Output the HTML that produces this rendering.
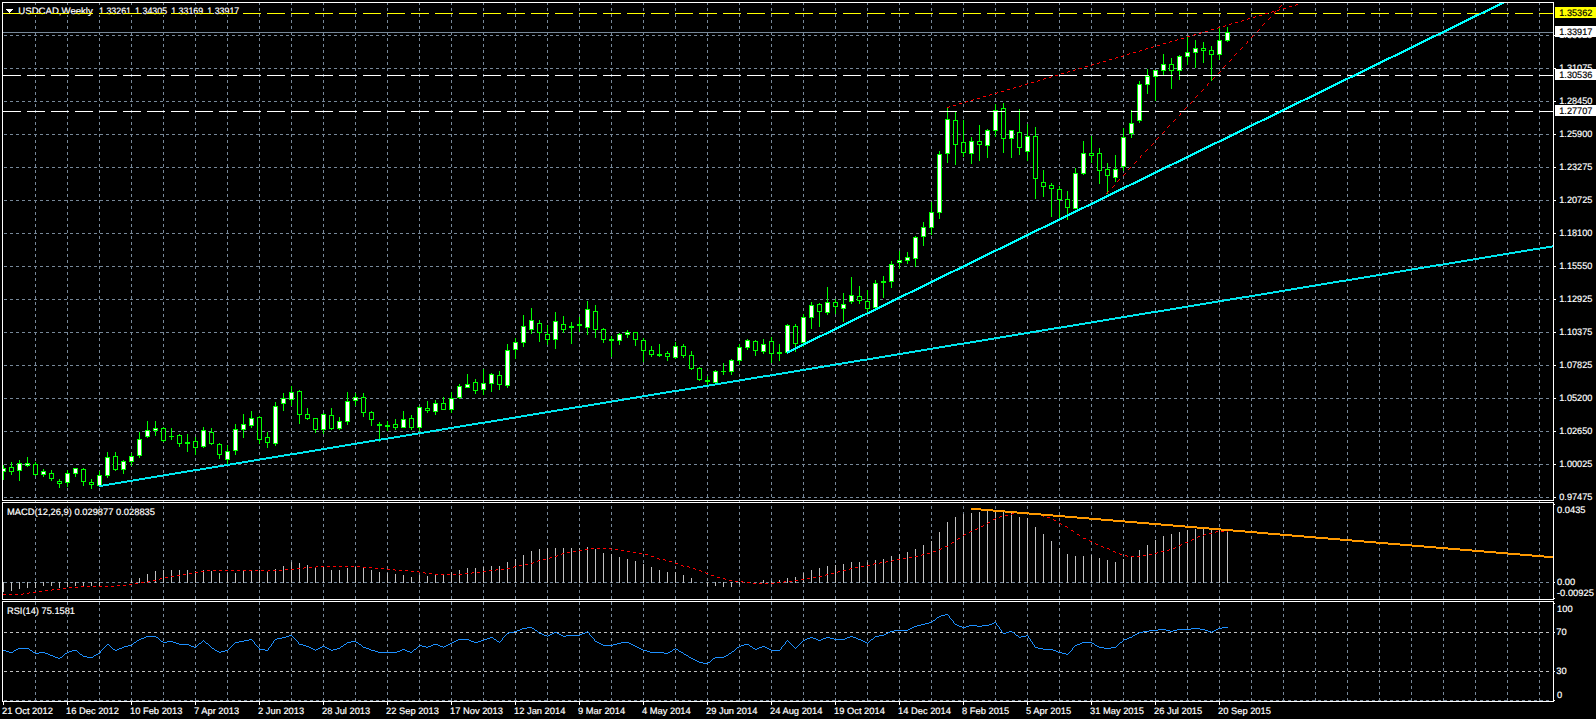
<!DOCTYPE html>
<html><head><meta charset="utf-8"><title>USDCAD Weekly</title>
<style>
html,body{margin:0;padding:0;background:#000;}
body{width:1596px;height:719px;overflow:hidden;position:relative;font-family:"Liberation Sans",sans-serif;}
</style></head><body>
<svg width="1596" height="719" viewBox="0 0 1596 719" shape-rendering="crispEdges" style="position:absolute;left:0;top:0;display:block">
<rect width="1596" height="719" fill="#000"/>
<path d="M35.5 2V701M67.5 2V701M99.5 2V701M131.5 2V701M163.5 2V701M195.5 2V701M227.5 2V701M259.5 2V701M291.5 2V701M323.5 2V701M355.5 2V701M387.5 2V701M419.5 2V701M451.5 2V701M483.5 2V701M515.5 2V701M547.5 2V701M579.5 2V701M611.5 2V701M643.5 2V701M675.5 2V701M707.5 2V701M739.5 2V701M771.5 2V701M803.5 2V701M835.5 2V701M867.5 2V701M899.5 2V701M931.5 2V701M963.5 2V701M995.5 2V701M1027.5 2V701M1059.5 2V701M1091.5 2V701M1123.5 2V701M1155.5 2V701M1187.5 2V701M1219.5 2V701M1251.5 2V701M1283.5 2V701M1315.5 2V701M1347.5 2V701M1379.5 2V701M1411.5 2V701M1443.5 2V701M1475.5 2V701M1507.5 2V701M1539.5 2V701" stroke="#778899" stroke-dasharray="3 3" fill="none"/>
<path d="M4 35.5H1552M4 68.5H1552M4 101.5H1552M4 134.5H1552M4 167.5H1552M4 200.5H1552M4 233.5H1552M4 266.5H1552M4 299.5H1552M4 332.5H1552M4 365.5H1552M4 398.5H1552M4 431.5H1552M4 464.5H1552M4 497.5H1552M4 582.5H1552" stroke="#778899" stroke-dasharray="3 3" fill="none"/>
<path d="M4 632.5H1552M4 671.5H1552" stroke="#c0c0c0" stroke-dasharray="3 3" fill="none"/>
<path d="M4 700.5H1552" stroke="#778899" stroke-dasharray="3 3" fill="none"/>
<path d="M3 32.5H1553" stroke="#778899" fill="none"/>
<path d="M3.5 582v10M11.5 582v9M19.5 582v7M27.5 582v6M35.5 582v6M43.5 582v4M51.5 582v4M59.5 582v6M67.5 582v5M75.5 582v4M83.5 582v5M91.5 582v4M99.5 582v4M131.5 580v3M139.5 578v5M147.5 574v9M155.5 571v12M163.5 570v13M171.5 570v13M179.5 570v13M187.5 570v13M195.5 571v12M203.5 570v13M211.5 571v12M219.5 573v10M227.5 573v10M235.5 573v10M243.5 570v13M251.5 570v13M259.5 570v13M267.5 571v12M275.5 569v14M283.5 566v17M291.5 562v21M299.5 563v20M307.5 565v18M315.5 567v16M323.5 567v16M331.5 570v13M339.5 570v13M347.5 568v15M355.5 567v16M363.5 567v16M371.5 570v13M379.5 572v11M387.5 573v10M395.5 574v9M403.5 575v8M411.5 577v6M419.5 575v8M427.5 576v7M435.5 574v9M443.5 574v9M451.5 572v11M459.5 570v13M467.5 568v15M475.5 568v15M483.5 567v16M491.5 566v17M499.5 566v17M507.5 562v21M515.5 559v24M523.5 555v28M531.5 551v32M539.5 549v34M547.5 548v35M555.5 548v35M563.5 548v35M571.5 548v35M579.5 548v35M587.5 547v36M595.5 549v34M603.5 553v30M611.5 554v29M619.5 557v26M627.5 559v24M635.5 561v22M643.5 564v19M651.5 567v16M659.5 570v13M667.5 572v11M675.5 572v11M683.5 575v8M691.5 578v5M707.5 582v4M715.5 582v4M723.5 582v5M731.5 582v5M739.5 582v3M763.5 580v3M771.5 581v2M779.5 580v3M787.5 578v5M795.5 577v6M803.5 573v10M811.5 570v13M819.5 568v15M827.5 566v17M835.5 565v18M843.5 564v19M851.5 562v21M859.5 562v21M867.5 562v21M875.5 560v23M883.5 559v24M891.5 556v27M899.5 554v29M907.5 552v31M915.5 549v34M923.5 545v38M931.5 541v42M939.5 532v51M947.5 522v61M955.5 517v66M963.5 514v69M971.5 513v70M979.5 512v71M987.5 511v72M995.5 510v73M1003.5 510v73M1011.5 513v70M1019.5 517v66M1027.5 518v65M1035.5 527v56M1043.5 534v49M1051.5 541v42M1059.5 548v35M1067.5 554v29M1075.5 556v27M1083.5 556v27M1091.5 555v28M1099.5 558v25M1107.5 560v23M1115.5 562v21M1123.5 559v24M1131.5 556v27M1139.5 550v33M1147.5 545v38M1155.5 540v43M1163.5 536v47M1171.5 534v49M1179.5 532v51M1187.5 530v53M1195.5 529v54M1203.5 529v54M1211.5 530v53M1219.5 529v54M1227.5 531v52" stroke="#c0c0c0" fill="none"/>
<clipPath id="cm"><rect x="3" y="3" width="1550" height="497"/></clipPath>
<g clip-path="url(#cm)">
<path d="M3.5 465v15M1 468.5h5M1 471.5h5M1.5 469v2M5.5 469v2M11.5 462v13M9 467.5h5M9 471.5h5M9.5 468v3M13.5 468v3M19.5 460v21M17 463.5h5M17 470.5h5M17.5 464v6M21.5 464v6M27.5 457v10M25 463.5h5M25 465.5h5M25.5 464v1M29.5 464v1M35.5 462v14M33 464.5h5M33 474.5h5M33.5 465v9M37.5 465v9M43.5 469v8M41 471.5h5M41 474.5h5M41.5 472v2M45.5 472v2M51.5 470v11M49 473.5h5M49 478.5h5M49.5 474v4M53.5 474v4M59.5 479v9M57 481.5h5M57 483.5h5M57.5 482v1M61.5 482v1M67.5 470v17M65 473.5h5M65 482.5h5M65.5 474v8M69.5 474v8M75.5 468v9M73 468.5h5M73 473.5h5M73.5 469v4M77.5 469v4M83.5 468v18M81 469.5h5M81 481.5h5M81.5 470v11M85.5 470v11M91.5 479v10M89 482.5h5M89 484.5h5M89.5 483v1M93.5 483v1M99.5 471v15M97 475.5h5M97 485.5h5M97.5 476v9M101.5 476v9M107.5 452v26M105 457.5h5M105 475.5h5M105.5 458v17M109.5 458v17M115.5 452v19M113 456.5h5M113 469.5h5M113.5 457v12M117.5 457v12M123.5 460v14M121 461.5h5M121 469.5h5M121.5 462v7M125.5 462v7M131.5 453v13M129 456.5h5M129 461.5h5M129.5 457v4M133.5 457v4M139.5 432v26M137 439.5h5M137 455.5h5M137.5 440v15M141.5 440v15M147.5 421v17M145 430.5h5M145 436.5h5M145.5 431v5M149.5 431v5M155.5 421v15M153 428.5h5M153 430.5h5M153.5 429v1M157.5 429v1M163.5 427v15M161 428.5h5M161 440.5h5M161.5 429v11M165.5 429v11M171.5 428v12M169 436.5h5M179.5 434v13M177 435.5h5M177 443.5h5M177.5 436v7M181.5 436v7M187.5 434v18M185 442.5h5M185 443.5h5M195.5 437v18M193 441.5h5M193 447.5h5M193.5 442v5M197.5 442v5M203.5 427v21M201 430.5h5M201 446.5h5M201.5 431v15M205.5 431v15M211.5 428v17M209 432.5h5M209 443.5h5M209.5 433v10M213.5 433v10M219.5 443v16M217 444.5h5M217 454.5h5M217.5 445v9M221.5 445v9M227.5 445v20M225 451.5h5M225 459.5h5M225.5 452v7M229.5 452v7M235.5 424v31M233 429.5h5M233 450.5h5M233.5 430v20M237.5 430v20M243.5 414v24M241 424.5h5M241 429.5h5M241.5 425v4M245.5 425v4M251.5 411v17M249 418.5h5M249 425.5h5M249.5 419v6M253.5 419v6M259.5 416v28M257 417.5h5M257 439.5h5M257.5 418v21M261.5 418v21M267.5 432v16M265 437.5h5M265 442.5h5M265.5 438v4M269.5 438v4M275.5 402v44M273 406.5h5M273 443.5h5M273.5 407v36M277.5 407v36M283.5 393v18M281 398.5h5M281 403.5h5M281.5 399v4M285.5 399v4M291.5 386v20M289 392.5h5M289 399.5h5M289.5 393v6M293.5 393v6M299.5 390v34M297 391.5h5M297 414.5h5M297.5 392v22M301.5 392v22M307.5 408v12M305 414.5h5M305 418.5h5M305.5 415v3M309.5 415v3M315.5 418v15M313 418.5h5M313 429.5h5M313.5 419v10M317.5 419v10M323.5 413v21M321 414.5h5M321 429.5h5M321.5 415v14M325.5 415v14M331.5 408v22M329 415.5h5M329 428.5h5M329.5 416v12M333.5 416v12M339.5 417v13M337 421.5h5M337 428.5h5M337.5 422v6M341.5 422v6M347.5 392v33M345 401.5h5M345 421.5h5M345.5 402v19M349.5 402v19M355.5 393v13M353 397.5h5M353 400.5h5M353.5 398v2M357.5 398v2M363.5 393v24M361 397.5h5M361 412.5h5M361.5 398v14M365.5 398v14M371.5 411v15M369 412.5h5M369 419.5h5M369.5 413v6M373.5 413v6M379.5 422v20M377 424.5h5M377 425.5h5M387.5 421v10M385 425.5h5M385 426.5h5M395.5 419v11M393 424.5h5M393 427.5h5M393.5 425v2M397.5 425v2M403.5 411v17M401 419.5h5M401 427.5h5M401.5 420v7M405.5 420v7M411.5 415v15M409 418.5h5M409 427.5h5M409.5 419v8M413.5 419v8M419.5 406v25M417 407.5h5M417 427.5h5M417.5 408v19M421.5 408v19M427.5 401v12M425 408.5h5M425 410.5h5M425.5 409v1M429.5 409v1M435.5 400v15M433 403.5h5M433 411.5h5M433.5 404v7M437.5 404v7M443.5 397v13M441 403.5h5M441 409.5h5M441.5 404v5M445.5 404v5M451.5 392v21M449 398.5h5M449 409.5h5M449.5 399v10M453.5 399v10M459.5 384v15M457 386.5h5M457 397.5h5M457.5 387v10M461.5 387v10M467.5 374v14M465 384.5h5M465 387.5h5M465.5 385v2M469.5 385v2M475.5 379v15M473 382.5h5M473 390.5h5M473.5 383v7M477.5 383v7M483.5 369v26M481 383.5h5M481 389.5h5M481.5 384v5M485.5 384v5M491.5 373v19M489 374.5h5M489 383.5h5M489.5 375v8M493.5 375v8M499.5 371v19M497 375.5h5M497 384.5h5M497.5 376v8M501.5 376v8M507.5 344v44M505 350.5h5M505 385.5h5M505.5 351v34M509.5 351v34M515.5 338v21M513 342.5h5M513 349.5h5M513.5 343v6M517.5 343v6M523.5 315v32M521 326.5h5M521 342.5h5M521.5 327v15M525.5 327v15M531.5 308v26M529 320.5h5M529 329.5h5M529.5 321v8M533.5 321v8M539.5 320v22M537 323.5h5M537 332.5h5M537.5 324v8M541.5 324v8M547.5 325v20M545 334.5h5M545 339.5h5M545.5 335v4M549.5 335v4M555.5 312v37M553 321.5h5M553 339.5h5M553.5 322v17M557.5 322v17M563.5 316v17M561 324.5h5M561 329.5h5M561.5 325v4M565.5 325v4M571.5 322v22M569 326.5h5M569 327.5h5M579.5 317v15M577 324.5h5M577 325.5h5M587.5 301v34M585 309.5h5M585 327.5h5M585.5 310v17M589.5 310v17M595.5 305v33M593 311.5h5M593 329.5h5M593.5 312v17M597.5 312v17M603.5 328v15M601 329.5h5M601 339.5h5M601.5 330v9M605.5 330v9M611.5 336v21M609 339.5h5M609 340.5h5M619.5 333v12M617 334.5h5M617 340.5h5M617.5 335v5M621.5 335v5M627.5 330v8M625 332.5h5M625 334.5h5M625.5 333v1M629.5 333v1M635.5 332v14M633 332.5h5M633 339.5h5M633.5 333v6M637.5 333v6M643.5 338v24M641 340.5h5M641 350.5h5M641.5 341v9M645.5 341v9M651.5 346v11M649 350.5h5M649 354.5h5M649.5 351v3M653.5 351v3M659.5 344v13M657 354.5h5M657 355.5h5M667.5 351v10M665 353.5h5M665 356.5h5M665.5 354v2M669.5 354v2M675.5 342v17M673 346.5h5M673 357.5h5M673.5 347v10M677.5 347v10M683.5 344v14M681 346.5h5M681 355.5h5M681.5 347v8M685.5 347v8M691.5 351v19M689 355.5h5M689 368.5h5M689.5 356v12M693.5 356v12M699.5 367v14M697 368.5h5M697 379.5h5M697.5 369v10M701.5 369v10M707.5 376v9M705 380.5h5M705 381.5h5M715.5 370v13M713 371.5h5M713 382.5h5M713.5 372v10M717.5 372v10M723.5 363v12M721 371.5h5M731.5 359v16M729 360.5h5M729 371.5h5M729.5 361v10M733.5 361v10M739.5 344v21M737 347.5h5M737 360.5h5M737.5 348v12M741.5 348v12M747.5 339v11M745 340.5h5M745 347.5h5M745.5 341v6M749.5 341v6M755.5 340v16M753 341.5h5M753 350.5h5M753.5 342v8M757.5 342v8M763.5 339v15M761 344.5h5M761 351.5h5M761.5 345v6M765.5 345v6M771.5 337v26M769 341.5h5M769 353.5h5M769.5 342v11M773.5 342v11M779.5 344v17M777 352.5h5M777 353.5h5M787.5 324v29M785 325.5h5M785 352.5h5M785.5 326v26M789.5 326v26M795.5 324v28M793 326.5h5M793 343.5h5M793.5 327v16M797.5 327v16M803.5 314v33M801 317.5h5M801 342.5h5M801.5 318v24M805.5 318v24M811.5 302v27M809 305.5h5M809 317.5h5M809.5 306v11M813.5 306v11M819.5 303v24M817 304.5h5M817 311.5h5M817.5 305v6M821.5 305v6M827.5 287v28M825 302.5h5M825 312.5h5M825.5 303v9M829.5 303v9M835.5 299v15M833 302.5h5M833 306.5h5M833.5 303v3M837.5 303v3M843.5 293v29M841 304.5h5M841 308.5h5M841.5 305v3M845.5 305v3M851.5 277v27M849 295.5h5M849 301.5h5M849.5 296v5M853.5 296v5M859.5 286v18M857 296.5h5M857 300.5h5M857.5 297v3M861.5 297v3M867.5 290v23M865 301.5h5M865 308.5h5M865.5 302v6M869.5 302v6M875.5 280v28M873 283.5h5M873 307.5h5M873.5 284v23M877.5 284v23M883.5 276v22M881 281.5h5M881 282.5h5M891.5 261v27M889 264.5h5M889 281.5h5M889.5 265v16M893.5 265v16M899.5 251v18M897 260.5h5M897 262.5h5M897.5 261v1M901.5 261v1M907.5 252v12M905 257.5h5M905 260.5h5M905.5 258v2M909.5 258v2M915.5 236v31M913 237.5h5M913 258.5h5M913.5 238v20M917.5 238v20M923.5 222v24M921 227.5h5M921 236.5h5M921.5 228v8M925.5 228v8M931.5 202v33M929 212.5h5M929 227.5h5M929.5 213v14M933.5 213v14M939.5 151v68M937 154.5h5M937 212.5h5M937.5 155v57M941.5 155v57M947.5 107v56M945 119.5h5M945 153.5h5M945.5 120v33M949.5 120v33M955.5 111v54M953 120.5h5M953 144.5h5M953.5 121v23M957.5 121v23M963.5 120v37M961 142.5h5M961 152.5h5M961.5 143v9M965.5 143v9M971.5 137v27M969 141.5h5M969 153.5h5M969.5 142v11M973.5 142v11M979.5 125v36M977 141.5h5M977 144.5h5M977.5 142v2M981.5 142v2M987.5 129v29M985 130.5h5M985 145.5h5M985.5 131v14M989.5 131v14M995.5 104v33M993 110.5h5M993 130.5h5M993.5 111v19M997.5 111v19M1003.5 103v50M1001 108.5h5M1001 138.5h5M1001.5 109v29M1005.5 109v29M1011.5 130v28M1009 130.5h5M1009 138.5h5M1009.5 131v7M1013.5 131v7M1019.5 109v46M1017 132.5h5M1017 147.5h5M1017.5 133v14M1021.5 133v14M1027.5 124v37M1025 136.5h5M1025 151.5h5M1025.5 137v14M1029.5 137v14M1035.5 127v72M1033 136.5h5M1033 178.5h5M1033.5 137v41M1037.5 137v41M1043.5 170v27M1041 182.5h5M1041 186.5h5M1041.5 183v3M1045.5 183v3M1051.5 183v34M1049 185.5h5M1049 188.5h5M1049.5 186v2M1053.5 186v2M1059.5 186v33M1057 189.5h5M1057 199.5h5M1057.5 190v9M1061.5 190v9M1067.5 191v29M1065 199.5h5M1065 207.5h5M1065.5 200v7M1069.5 200v7M1075.5 168v41M1073 173.5h5M1073 208.5h5M1073.5 174v34M1077.5 174v34M1083.5 141v34M1081 153.5h5M1081 173.5h5M1081.5 154v19M1085.5 154v19M1091.5 136v27M1089 153.5h5M1089 155.5h5M1089.5 154v1M1093.5 154v1M1099.5 148v36M1097 153.5h5M1097 170.5h5M1097.5 154v16M1101.5 154v16M1107.5 163v31M1105 169.5h5M1105 175.5h5M1105.5 170v5M1109.5 170v5M1115.5 155v27M1113 169.5h5M1113 177.5h5M1113.5 170v7M1117.5 170v7M1123.5 128v43M1121 137.5h5M1121 166.5h5M1121.5 138v28M1125.5 138v28M1131.5 110v28M1129 123.5h5M1129 133.5h5M1129.5 124v9M1133.5 124v9M1139.5 81v42M1137 84.5h5M1137 120.5h5M1137.5 85v35M1141.5 85v35M1147.5 69v25M1145 76.5h5M1145 84.5h5M1145.5 77v7M1149.5 77v7M1155.5 70v31M1153 70.5h5M1153 76.5h5M1153.5 71v5M1157.5 71v5M1163.5 54v21M1161 64.5h5M1161 70.5h5M1161.5 65v5M1165.5 65v5M1171.5 58v31M1169 64.5h5M1169 70.5h5M1169.5 65v5M1173.5 65v5M1179.5 55v25M1177 56.5h5M1177 70.5h5M1177.5 57v13M1181.5 57v13M1187.5 36v29M1185 52.5h5M1185 56.5h5M1185.5 53v3M1189.5 53v3M1195.5 40v28M1193 48.5h5M1193 52.5h5M1193.5 49v3M1197.5 49v3M1203.5 42v21M1201 48.5h5M1201 50.5h5M1201.5 49v1M1205.5 49v1M1211.5 46v35M1209 50.5h5M1209 54.5h5M1209.5 51v3M1213.5 51v3M1219.5 27v33M1217 40.5h5M1217 54.5h5M1217.5 41v13M1221.5 41v13M1227.5 27v15M1225 32.5h5M1225 40.5h5M1225.5 33v7M1229.5 33v7" stroke="#00ff00" fill="none"/>
<g fill="#fff"><rect x="2" y="469" width="3" height="2"/><rect x="18" y="464" width="3" height="6"/><rect x="26" y="464" width="3" height="1"/><rect x="42" y="472" width="3" height="2"/><rect x="66" y="474" width="3" height="8"/><rect x="74" y="469" width="3" height="4"/><rect x="98" y="476" width="3" height="9"/><rect x="106" y="458" width="3" height="17"/><rect x="122" y="462" width="3" height="7"/><rect x="130" y="457" width="3" height="4"/><rect x="138" y="440" width="3" height="15"/><rect x="146" y="431" width="3" height="5"/><rect x="154" y="429" width="3" height="1"/><rect x="202" y="431" width="3" height="15"/><rect x="226" y="452" width="3" height="7"/><rect x="234" y="430" width="3" height="20"/><rect x="242" y="425" width="3" height="4"/><rect x="250" y="419" width="3" height="6"/><rect x="274" y="407" width="3" height="36"/><rect x="282" y="399" width="3" height="4"/><rect x="290" y="393" width="3" height="6"/><rect x="322" y="415" width="3" height="14"/><rect x="338" y="422" width="3" height="6"/><rect x="346" y="402" width="3" height="19"/><rect x="354" y="398" width="3" height="2"/><rect x="402" y="420" width="3" height="7"/><rect x="418" y="408" width="3" height="19"/><rect x="434" y="404" width="3" height="7"/><rect x="450" y="399" width="3" height="10"/><rect x="458" y="387" width="3" height="10"/><rect x="466" y="385" width="3" height="2"/><rect x="482" y="384" width="3" height="5"/><rect x="490" y="375" width="3" height="8"/><rect x="506" y="351" width="3" height="34"/><rect x="514" y="343" width="3" height="6"/><rect x="522" y="327" width="3" height="15"/><rect x="530" y="321" width="3" height="8"/><rect x="554" y="322" width="3" height="17"/><rect x="586" y="310" width="3" height="17"/><rect x="618" y="335" width="3" height="5"/><rect x="626" y="333" width="3" height="1"/><rect x="674" y="347" width="3" height="10"/><rect x="714" y="372" width="3" height="10"/><rect x="730" y="361" width="3" height="10"/><rect x="738" y="348" width="3" height="12"/><rect x="746" y="341" width="3" height="6"/><rect x="762" y="345" width="3" height="6"/><rect x="786" y="326" width="3" height="26"/><rect x="802" y="318" width="3" height="24"/><rect x="810" y="306" width="3" height="11"/><rect x="826" y="303" width="3" height="9"/><rect x="842" y="305" width="3" height="3"/><rect x="850" y="296" width="3" height="5"/><rect x="874" y="284" width="3" height="23"/><rect x="890" y="265" width="3" height="16"/><rect x="898" y="261" width="3" height="1"/><rect x="906" y="258" width="3" height="2"/><rect x="914" y="238" width="3" height="20"/><rect x="922" y="228" width="3" height="8"/><rect x="930" y="213" width="3" height="14"/><rect x="938" y="155" width="3" height="57"/><rect x="946" y="120" width="3" height="33"/><rect x="970" y="142" width="3" height="11"/><rect x="986" y="131" width="3" height="14"/><rect x="994" y="111" width="3" height="19"/><rect x="1010" y="131" width="3" height="7"/><rect x="1026" y="137" width="3" height="14"/><rect x="1074" y="174" width="3" height="34"/><rect x="1082" y="154" width="3" height="19"/><rect x="1114" y="170" width="3" height="7"/><rect x="1122" y="138" width="3" height="28"/><rect x="1130" y="124" width="3" height="9"/><rect x="1138" y="85" width="3" height="35"/><rect x="1146" y="77" width="3" height="7"/><rect x="1154" y="71" width="3" height="5"/><rect x="1162" y="65" width="3" height="5"/><rect x="1178" y="57" width="3" height="13"/><rect x="1186" y="53" width="3" height="3"/><rect x="1194" y="49" width="3" height="3"/><rect x="1218" y="41" width="3" height="13"/><rect x="1226" y="33" width="3" height="7"/></g>
<g fill="#000"><rect x="10" y="468" width="3" height="3"/><rect x="34" y="465" width="3" height="9"/><rect x="50" y="474" width="3" height="4"/><rect x="58" y="482" width="3" height="1"/><rect x="82" y="470" width="3" height="11"/><rect x="90" y="483" width="3" height="1"/><rect x="114" y="457" width="3" height="12"/><rect x="162" y="429" width="3" height="11"/><rect x="178" y="436" width="3" height="7"/><rect x="194" y="442" width="3" height="5"/><rect x="210" y="433" width="3" height="10"/><rect x="218" y="445" width="3" height="9"/><rect x="258" y="418" width="3" height="21"/><rect x="266" y="438" width="3" height="4"/><rect x="298" y="392" width="3" height="22"/><rect x="306" y="415" width="3" height="3"/><rect x="314" y="419" width="3" height="10"/><rect x="330" y="416" width="3" height="12"/><rect x="362" y="398" width="3" height="14"/><rect x="370" y="413" width="3" height="6"/><rect x="394" y="425" width="3" height="2"/><rect x="410" y="419" width="3" height="8"/><rect x="426" y="409" width="3" height="1"/><rect x="442" y="404" width="3" height="5"/><rect x="474" y="383" width="3" height="7"/><rect x="498" y="376" width="3" height="8"/><rect x="538" y="324" width="3" height="8"/><rect x="546" y="335" width="3" height="4"/><rect x="562" y="325" width="3" height="4"/><rect x="594" y="312" width="3" height="17"/><rect x="602" y="330" width="3" height="9"/><rect x="634" y="333" width="3" height="6"/><rect x="642" y="341" width="3" height="9"/><rect x="650" y="351" width="3" height="3"/><rect x="666" y="354" width="3" height="2"/><rect x="682" y="347" width="3" height="8"/><rect x="690" y="356" width="3" height="12"/><rect x="698" y="369" width="3" height="10"/><rect x="754" y="342" width="3" height="8"/><rect x="770" y="342" width="3" height="11"/><rect x="794" y="327" width="3" height="16"/><rect x="818" y="305" width="3" height="6"/><rect x="834" y="303" width="3" height="3"/><rect x="858" y="297" width="3" height="3"/><rect x="866" y="302" width="3" height="6"/><rect x="954" y="121" width="3" height="23"/><rect x="962" y="143" width="3" height="9"/><rect x="978" y="142" width="3" height="2"/><rect x="1002" y="109" width="3" height="29"/><rect x="1018" y="133" width="3" height="14"/><rect x="1034" y="137" width="3" height="41"/><rect x="1042" y="183" width="3" height="3"/><rect x="1050" y="186" width="3" height="2"/><rect x="1058" y="190" width="3" height="9"/><rect x="1066" y="200" width="3" height="7"/><rect x="1090" y="154" width="3" height="1"/><rect x="1098" y="154" width="3" height="16"/><rect x="1106" y="170" width="3" height="5"/><rect x="1170" y="65" width="3" height="5"/><rect x="1202" y="49" width="3" height="1"/><rect x="1210" y="51" width="3" height="3"/></g>
</g>
<g font-family="'Liberation Sans', sans-serif" font-size="9.33" text-rendering="geometricPrecision">
<rect x="17" y="6" width="225" height="9" fill="#000"/>
<text x="18.3" y="14" fill="#fff" stroke="#fff" stroke-width="0.18" text-anchor="start" textLength="74.5" lengthAdjust="spacingAndGlyphs">USDCAD,Weekly</text>
<text x="99.0" y="14" fill="#fff" stroke="#fff" stroke-width="0.18" text-anchor="start" textLength="32" lengthAdjust="spacingAndGlyphs">1.33261</text>
<text x="135.1" y="14" fill="#fff" stroke="#fff" stroke-width="0.18" text-anchor="start" textLength="32" lengthAdjust="spacingAndGlyphs">1.34305</text>
<text x="171.2" y="14" fill="#fff" stroke="#fff" stroke-width="0.18" text-anchor="start" textLength="32" lengthAdjust="spacingAndGlyphs">1.33169</text>
<text x="207.3" y="14" fill="#fff" stroke="#fff" stroke-width="0.18" text-anchor="start" textLength="32" lengthAdjust="spacingAndGlyphs">1.33917</text>
<path d="M6 9.5h7M7 10.5h5M8 11.5h3M9 12.5h1" stroke="#fff" fill="none"/>
<rect x="6" y="508" width="150" height="8" fill="#000"/>
<text x="7" y="515" fill="#fff" stroke="#fff" stroke-width="0.18" text-anchor="start" textLength="148" lengthAdjust="spacingAndGlyphs">MACD(12,26,9) 0.029877 0.028835</text>
<rect x="6" y="607" width="70" height="8" fill="#000"/>
<text x="7" y="614" fill="#fff" stroke="#fff" stroke-width="0.18" text-anchor="start" textLength="68" lengthAdjust="spacingAndGlyphs">RSI(14) 75.1581</text>
</g>
<path d="M3 13.5H1553" stroke="#ffff00" stroke-dasharray="18 6" fill="none"/>
<path d="M3 75.5H1553M3 111.5H1553" stroke="#fff" stroke-dasharray="18 6" fill="none"/>
<path d="M1012 513.5h2M1017 513.5h3M1023 513.5h3M1029 513.5h2M1011 514.5h1M1031 514.5h1M1035 514.5h3M1005 515.5h3M1041 515.5h2M1000 516.5h2M1043 516.5h1M999 517.5h1M1047 517.5h3M995 518.5h1M993 519.5h2M1053 519.5h1M1054 520.5h2M988 522.5h2M987 523.5h1M1059 523.5h2M1061 524.5h1M983 525.5h1M981 526.5h2M1065 526.5h2M1067 527.5h1M977 528.5h1M975 529.5h2M1071 530.5h2M970 531.5h2M1073 531.5h1M1216 531.5h2M1221 531.5h3M1227 531.5h1M969 532.5h1M1215 532.5h1M1209 533.5h3M964 534.5h2M1077 534.5h2M1204 534.5h2M963 535.5h1M1079 535.5h1M1203 535.5h1M1198 536.5h2M1197 537.5h1M958 538.5h2M1083 538.5h3M957 539.5h1M1192 539.5h2M1089 540.5h1M1191 540.5h1M1090 541.5h2M952 542.5h2M1185 542.5h3M951 543.5h1M1095 543.5h1M1096 544.5h2M1181 544.5h1M1179 545.5h2M945 546.5h3M1101 546.5h2M1103 547.5h1M1175 547.5h1M591 548.5h3M597 548.5h3M603 548.5h3M609 548.5h2M941 548.5h1M1107 548.5h2M1173 548.5h2M585 549.5h3M611 549.5h1M615 549.5h3M939 549.5h2M1109 549.5h1M1169 549.5h1M579 550.5h3M621 550.5h3M1167 550.5h2M573 551.5h3M627 551.5h3M933 551.5h3M1113 551.5h2M1161 551.5h3M567 552.5h3M633 552.5h3M1115 552.5h1M1157 552.5h1M562 553.5h2M639 553.5h3M927 553.5h3M1119 553.5h1M1155 553.5h2M561 554.5h1M645 554.5h3M922 554.5h2M1120 554.5h2M1149 554.5h3M557 555.5h1M921 555.5h1M1125 555.5h2M1143 555.5h3M555 556.5h2M651 556.5h3M915 556.5h3M1127 556.5h1M1131 556.5h3M1137 556.5h3M550 557.5h2M909 557.5h3M549 558.5h1M657 558.5h2M903 558.5h3M543 559.5h3M659 559.5h1M663 559.5h2M897 559.5h3M538 560.5h2M665 560.5h1M892 560.5h2M537 561.5h1M669 561.5h3M886 561.5h2M891 561.5h1M533 562.5h1M880 562.5h2M885 562.5h1M531 563.5h2M675 563.5h3M874 563.5h2M879 563.5h1M525 564.5h3M873 564.5h1M519 565.5h3M681 565.5h2M867 565.5h3M316 566.5h2M321 566.5h3M327 566.5h3M333 566.5h3M339 566.5h3M345 566.5h3M351 566.5h3M357 566.5h3M514 566.5h2M683 566.5h1M687 566.5h2M861 566.5h3M304 567.5h2M309 567.5h3M315 567.5h1M363 567.5h3M369 567.5h3M513 567.5h1M689 567.5h1M855 567.5h3M297 568.5h3M303 568.5h1M375 568.5h3M381 568.5h3M507 568.5h3M693 568.5h2M850 568.5h2M285 569.5h3M291 569.5h3M387 569.5h3M393 569.5h2M496 569.5h2M501 569.5h3M695 569.5h1M849 569.5h1M207 570.5h3M213 570.5h3M219 570.5h3M225 570.5h3M231 570.5h3M237 570.5h3M243 570.5h3M249 570.5h3M255 570.5h3M261 570.5h3M268 570.5h2M273 570.5h3M279 570.5h3M395 570.5h1M399 570.5h3M405 570.5h3M489 570.5h3M495 570.5h1M699 570.5h2M843 570.5h3M201 571.5h3M267 571.5h1M411 571.5h3M417 571.5h2M483 571.5h3M701 571.5h1M838 571.5h2M195 572.5h3M419 572.5h1M423 572.5h2M472 572.5h2M477 572.5h3M705 572.5h1M837 572.5h1M189 573.5h3M425 573.5h1M429 573.5h3M465 573.5h3M471 573.5h1M706 573.5h2M831 573.5h3M183 574.5h3M435 574.5h3M441 574.5h3M447 574.5h3M453 574.5h3M459 574.5h3M826 574.5h2M177 575.5h3M711 575.5h3M825 575.5h1M171 576.5h3M819 576.5h3M165 577.5h3M717 577.5h3M813 577.5h3M160 578.5h2M723 578.5h2M807 578.5h3M159 579.5h1M725 579.5h1M801 579.5h3M153 580.5h3M729 580.5h3M795 580.5h3M148 581.5h2M735 581.5h3M741 581.5h2M784 581.5h2M789 581.5h3M141 582.5h3M147 582.5h1M743 582.5h1M747 582.5h3M777 582.5h3M783 582.5h1M135 583.5h3M753 583.5h3M759 583.5h3M765 583.5h3M771 583.5h3M129 584.5h3M117 585.5h3M123 585.5h3M81 586.5h3M87 586.5h3M93 586.5h3M99 586.5h3M105 586.5h3M111 586.5h3M69 587.5h3M75 587.5h3M63 588.5h3M52 589.5h2M57 589.5h3M45 590.5h3M51 590.5h1M39 591.5h3M29 592.5h1M33 592.5h3M23 593.5h1M27 593.5h2M3 594.5h3M9 594.5h3M15 594.5h3M21 594.5h2M1296 4.5h2M1295 5.5h1M1289 6.5h3M1283 8.5h3M1279 9.5h1M1277 10.5h2M1272 11.5h2M1271 12.5h1M1265 13.5h3M1259 15.5h3M1255 16.5h1M1253 17.5h2M1248 18.5h2M1247 19.5h1M1242 20.5h2M1241 21.5h1M1235 22.5h3M1231 23.5h1M1229 24.5h2M1225 25.5h1M1223 26.5h2M1218 27.5h2M1217 28.5h1M1211 29.5h3M1205 31.5h3M1201 32.5h1M1199 33.5h2M1194 34.5h2M1193 35.5h1M1187 36.5h3M1181 38.5h3M1177 39.5h1M1175 40.5h2M1170 41.5h2M1169 42.5h1M1163 43.5h3M1157 45.5h3M1153 46.5h1M1151 47.5h2M1146 48.5h2M1145 49.5h1M1140 50.5h2M1139 51.5h1M1133 52.5h3M1129 53.5h1M1127 54.5h2M1123 55.5h1M1121 56.5h2M1116 57.5h2M1115 58.5h1M1109 59.5h3M1103 61.5h3M1099 62.5h1M1097 63.5h2M1092 64.5h2M1091 65.5h1M1085 66.5h3M1079 68.5h3M1075 69.5h1M1073 70.5h2M1068 71.5h2M1067 72.5h1M1061 73.5h3M1055 75.5h3M1051 76.5h1M1049 77.5h2M1044 78.5h2M1043 79.5h1M1038 80.5h2M1037 81.5h1M1031 82.5h3M1027 83.5h1M1025 84.5h2M1021 85.5h1M1019 86.5h2M1014 87.5h2M1013 88.5h1M1007 89.5h3M1001 91.5h3M997 92.5h1M995 93.5h2M990 94.5h2M989 95.5h1M983 96.5h3M977 98.5h3M973 99.5h1M971 100.5h2M966 101.5h2M965 102.5h1M959 103.5h3M953 105.5h3M949 106.5h1M947 107.5h2M1281 5.5h1M1280 6.5h1M1279 7.5h1M1275 11.5h1M1274 12.5h1M1274 13.5h1M1270 17.5h1M1269 18.5h1M1268 19.5h1M1264 23.5h1M1263 24.5h1M1262 25.5h1M1259 29.5h1M1258 30.5h1M1257 31.5h1M1253 35.5h1M1252 36.5h1M1251 37.5h1M1247 41.5h1M1247 42.5h1M1246 43.5h1M1242 47.5h1M1241 48.5h1M1240 49.5h1M1236 53.5h1M1235 54.5h1M1234 55.5h1M1231 59.5h1M1230 60.5h1M1229 61.5h1M1225 65.5h1M1224 66.5h1M1223 67.5h1M1220 71.5h1M1219 72.5h1M1218 73.5h1M1214 77.5h1M1213 78.5h1M1212 79.5h1M1208 83.5h1M1207 84.5h1M1207 85.5h1M1203 89.5h1M1202 90.5h1M1201 91.5h1M1197 95.5h1M1196 96.5h1M1195 97.5h1M1192 101.5h1M1191 102.5h1M1190 103.5h1M1186 107.5h1M1185 108.5h1M1184 109.5h1M1180 113.5h1M1180 114.5h1M1179 115.5h1M1175 119.5h1M1174 120.5h1M1173 121.5h1M1169 125.5h1M1168 126.5h1M1167 127.5h1M1164 131.5h1M1163 132.5h1M1162 133.5h1M1158 137.5h1M1157 138.5h1M1156 139.5h1M1153 143.5h1M1152 144.5h1M1151 145.5h1M1147 149.5h1M1146 150.5h1M1145 151.5h1M1141 155.5h1M1140 156.5h1M1140 157.5h1M1136 161.5h1M1135 162.5h1M1134 163.5h1M1130 167.5h1M1129 168.5h1M1128 169.5h1M1125 173.5h1M1124 174.5h1M1123 175.5h1M1119 179.5h1M1118 180.5h1M1117 181.5h1M1114 185.5h1M1113 186.5h1M1112 187.5h1M1108 191.5h1M1107 192.5h1M1106 193.5h1" stroke="#ff0000" fill="none"/>
<path d="M1552 245.5h1M1546 246.5h7M1540 247.5h12M1533 248.5h13M1527 249.5h13M1521 250.5h12M1515 251.5h12M1509 252.5h12M1503 253.5h12M1497 254.5h12M1491 255.5h12M1485 256.5h12M1479 257.5h12M1473 258.5h12M1467 259.5h12M1461 260.5h12M1455 261.5h12M1449 262.5h12M1443 263.5h12M1436 264.5h13M1430 265.5h13M1424 266.5h12M1418 267.5h12M1412 268.5h12M1406 269.5h12M1400 270.5h12M1394 271.5h12M1388 272.5h12M1382 273.5h12M1376 274.5h12M1370 275.5h12M1364 276.5h12M1358 277.5h12M1352 278.5h12M1346 279.5h12M1339 280.5h13M1333 281.5h13M1327 282.5h12M1321 283.5h12M1315 284.5h12M1309 285.5h12M1303 286.5h12M1297 287.5h12M1291 288.5h12M1285 289.5h12M1279 290.5h12M1273 291.5h12M1267 292.5h12M1261 293.5h12M1255 294.5h12M1249 295.5h12M1242 296.5h13M1236 297.5h13M1230 298.5h12M1224 299.5h12M1218 300.5h12M1212 301.5h12M1206 302.5h12M1200 303.5h12M1194 304.5h12M1188 305.5h12M1182 306.5h12M1176 307.5h12M1170 308.5h12M1164 309.5h12M1158 310.5h12M1151 311.5h13M1145 312.5h13M1139 313.5h12M1133 314.5h12M1127 315.5h12M1121 316.5h12M1115 317.5h12M1109 318.5h12M1103 319.5h12M1097 320.5h12M1091 321.5h12M1085 322.5h12M1079 323.5h12M1073 324.5h12M1067 325.5h12M1061 326.5h12M1054 327.5h13M1048 328.5h13M1042 329.5h12M1036 330.5h12M1030 331.5h12M1024 332.5h12M1018 333.5h12M1012 334.5h12M1006 335.5h12M1000 336.5h12M994 337.5h12M988 338.5h12M982 339.5h12M976 340.5h12M970 341.5h12M964 342.5h12M957 343.5h13M951 344.5h13M945 345.5h12M939 346.5h12M933 347.5h12M927 348.5h12M921 349.5h12M915 350.5h12M909 351.5h12M903 352.5h12M897 353.5h12M891 354.5h12M885 355.5h12M879 356.5h12M873 357.5h12M867 358.5h12M860 359.5h13M854 360.5h13M848 361.5h12M842 362.5h12M836 363.5h12M830 364.5h12M824 365.5h12M818 366.5h12M812 367.5h12M806 368.5h12M800 369.5h12M794 370.5h12M788 371.5h12M782 372.5h12M776 373.5h12M770 374.5h12M763 375.5h13M757 376.5h13M751 377.5h12M745 378.5h12M739 379.5h12M733 380.5h12M727 381.5h12M721 382.5h12M715 383.5h12M709 384.5h12M703 385.5h12M697 386.5h12M691 387.5h12M685 388.5h12M679 389.5h12M672 390.5h13M666 391.5h13M660 392.5h12M654 393.5h12M648 394.5h12M642 395.5h12M636 396.5h12M630 397.5h12M624 398.5h12M618 399.5h12M612 400.5h12M606 401.5h12M600 402.5h12M594 403.5h12M588 404.5h12M582 405.5h12M575 406.5h13M569 407.5h13M563 408.5h12M557 409.5h12M551 410.5h12M545 411.5h12M539 412.5h12M533 413.5h12M527 414.5h12M521 415.5h12M515 416.5h12M509 417.5h12M503 418.5h12M497 419.5h12M491 420.5h12M485 421.5h12M478 422.5h13M472 423.5h13M466 424.5h12M460 425.5h12M454 426.5h12M448 427.5h12M442 428.5h12M436 429.5h12M430 430.5h12M424 431.5h12M418 432.5h12M412 433.5h12M406 434.5h12M400 435.5h12M394 436.5h12M388 437.5h12M381 438.5h13M375 439.5h13M369 440.5h12M363 441.5h12M357 442.5h12M351 443.5h12M345 444.5h12M339 445.5h12M333 446.5h12M327 447.5h12M321 448.5h12M315 449.5h12M309 450.5h12M303 451.5h12M297 452.5h12M290 453.5h13M284 454.5h13M278 455.5h12M272 456.5h12M266 457.5h12M260 458.5h12M254 459.5h12M248 460.5h12M242 461.5h12M236 462.5h12M230 463.5h12M224 464.5h12M218 465.5h12M212 466.5h12M206 467.5h12M200 468.5h12M193 469.5h13M187 470.5h13M181 471.5h12M175 472.5h12M169 473.5h12M163 474.5h12M157 475.5h12M151 476.5h12M145 477.5h12M139 478.5h12M133 479.5h12M127 480.5h12M121 481.5h12M115 482.5h12M109 483.5h12M103 484.5h12M99 485.5h10M99 486.5h4" stroke="#00e5ee" fill="none"/>
<path d="M1499 3.5h5M1497 4.5h5M1495 5.5h5M1493 6.5h5M1491 7.5h5M1489 8.5h5M1487 9.5h5M1485 10.5h5M1483 11.5h5M1481 12.5h5M1479 13.5h5M1476 14.5h5M1474 15.5h5M1472 16.5h5M1470 17.5h5M1468 18.5h5M1466 19.5h5M1464 20.5h5M1462 21.5h5M1460 22.5h5M1458 23.5h5M1456 24.5h5M1454 25.5h5M1452 26.5h5M1450 27.5h5M1448 28.5h5M1446 29.5h5M1444 30.5h5M1442 31.5h5M1440 32.5h5M1438 33.5h5M1436 34.5h5M1433 35.5h5M1431 36.5h5M1429 37.5h5M1427 38.5h5M1425 39.5h5M1423 40.5h5M1421 41.5h5M1419 42.5h5M1417 43.5h5M1415 44.5h5M1413 45.5h5M1411 46.5h5M1409 47.5h5M1407 48.5h5M1405 49.5h5M1403 50.5h5M1401 51.5h5M1399 52.5h5M1397 53.5h5M1395 54.5h5M1393 55.5h5M1391 56.5h5M1388 57.5h5M1386 58.5h5M1384 59.5h5M1382 60.5h5M1380 61.5h5M1378 62.5h5M1376 63.5h5M1374 64.5h5M1372 65.5h5M1370 66.5h5M1368 67.5h5M1366 68.5h5M1364 69.5h5M1362 70.5h5M1360 71.5h5M1358 72.5h5M1356 73.5h5M1354 74.5h5M1352 75.5h5M1350 76.5h5M1348 77.5h5M1345 78.5h5M1343 79.5h5M1341 80.5h5M1339 81.5h5M1337 82.5h5M1335 83.5h5M1333 84.5h5M1331 85.5h5M1329 86.5h5M1327 87.5h5M1325 88.5h5M1323 89.5h5M1321 90.5h5M1319 91.5h5M1317 92.5h5M1315 93.5h5M1313 94.5h5M1311 95.5h5M1309 96.5h5M1307 97.5h5M1305 98.5h5M1303 99.5h5M1300 100.5h5M1298 101.5h5M1296 102.5h5M1294 103.5h5M1292 104.5h5M1290 105.5h5M1288 106.5h5M1286 107.5h5M1284 108.5h5M1282 109.5h5M1280 110.5h5M1278 111.5h5M1276 112.5h5M1274 113.5h5M1272 114.5h5M1270 115.5h5M1268 116.5h5M1266 117.5h5M1264 118.5h5M1262 119.5h5M1260 120.5h5M1257 121.5h5M1255 122.5h5M1253 123.5h5M1251 124.5h5M1249 125.5h5M1247 126.5h5M1245 127.5h5M1243 128.5h5M1241 129.5h5M1239 130.5h5M1237 131.5h5M1235 132.5h5M1233 133.5h5M1231 134.5h5M1229 135.5h5M1227 136.5h5M1225 137.5h5M1223 138.5h5M1221 139.5h5M1219 140.5h5M1217 141.5h5M1214 142.5h5M1212 143.5h5M1210 144.5h5M1208 145.5h5M1206 146.5h5M1204 147.5h5M1202 148.5h5M1200 149.5h5M1198 150.5h5M1196 151.5h5M1194 152.5h5M1192 153.5h5M1190 154.5h5M1188 155.5h5M1186 156.5h5M1184 157.5h5M1182 158.5h5M1180 159.5h5M1178 160.5h5M1176 161.5h5M1174 162.5h5M1172 163.5h5M1169 164.5h5M1167 165.5h5M1165 166.5h5M1163 167.5h5M1161 168.5h5M1159 169.5h5M1157 170.5h5M1155 171.5h5M1153 172.5h5M1151 173.5h5M1149 174.5h5M1147 175.5h5M1145 176.5h5M1143 177.5h5M1141 178.5h5M1139 179.5h5M1137 180.5h5M1135 181.5h5M1133 182.5h5M1131 183.5h5M1129 184.5h5M1126 185.5h5M1124 186.5h5M1122 187.5h5M1120 188.5h5M1118 189.5h5M1116 190.5h5M1114 191.5h5M1112 192.5h5M1110 193.5h5M1108 194.5h5M1106 195.5h5M1104 196.5h5M1102 197.5h5M1100 198.5h5M1098 199.5h5M1096 200.5h5M1094 201.5h5M1092 202.5h5M1090 203.5h5M1088 204.5h5M1086 205.5h5M1084 206.5h5M1081 207.5h5M1079 208.5h5M1077 209.5h5M1075 210.5h5M1073 211.5h5M1071 212.5h5M1069 213.5h5M1067 214.5h5M1065 215.5h5M1063 216.5h5M1061 217.5h5M1059 218.5h5M1057 219.5h5M1055 220.5h5M1053 221.5h5M1051 222.5h5M1049 223.5h5M1047 224.5h5M1045 225.5h5M1043 226.5h5M1041 227.5h5M1038 228.5h5M1036 229.5h5M1034 230.5h5M1032 231.5h5M1030 232.5h5M1028 233.5h5M1026 234.5h5M1024 235.5h5M1022 236.5h5M1020 237.5h5M1018 238.5h5M1016 239.5h5M1014 240.5h5M1012 241.5h5M1010 242.5h5M1008 243.5h5M1006 244.5h5M1004 245.5h5M1002 246.5h5M1000 247.5h5M998 248.5h5M996 249.5h5M993 250.5h5M991 251.5h5M989 252.5h5M987 253.5h5M985 254.5h5M983 255.5h5M981 256.5h5M979 257.5h5M977 258.5h5M975 259.5h5M973 260.5h5M971 261.5h5M969 262.5h5M967 263.5h5M965 264.5h5M963 265.5h5M961 266.5h5M959 267.5h5M957 268.5h5M955 269.5h5M953 270.5h5M950 271.5h5M948 272.5h5M946 273.5h5M944 274.5h5M942 275.5h5M940 276.5h5M938 277.5h5M936 278.5h5M934 279.5h5M932 280.5h5M930 281.5h5M928 282.5h5M926 283.5h5M924 284.5h5M922 285.5h5M920 286.5h5M918 287.5h5M916 288.5h5M914 289.5h5M912 290.5h5M910 291.5h5M908 292.5h5M905 293.5h5M903 294.5h5M901 295.5h5M899 296.5h5M897 297.5h5M895 298.5h5M893 299.5h5M891 300.5h5M889 301.5h5M887 302.5h5M885 303.5h5M883 304.5h5M881 305.5h5M879 306.5h5M877 307.5h5M875 308.5h5M873 309.5h5M871 310.5h5M869 311.5h5M867 312.5h5M865 313.5h5M862 314.5h5M860 315.5h5M858 316.5h5M856 317.5h5M854 318.5h5M852 319.5h5M850 320.5h5M848 321.5h5M846 322.5h5M844 323.5h5M842 324.5h5M840 325.5h5M838 326.5h5M836 327.5h5M834 328.5h5M832 329.5h5M830 330.5h5M828 331.5h5M826 332.5h5M824 333.5h5M822 334.5h5M819 335.5h5M817 336.5h5M815 337.5h5M813 338.5h5M811 339.5h5M809 340.5h5M807 341.5h5M805 342.5h5M803 343.5h5M801 344.5h5M799 345.5h5M797 346.5h5M795 347.5h5M793 348.5h5M791 349.5h5M789 350.5h5M787 351.5h5M787 352.5h3M787 353.5h1" stroke="#00ffff" fill="none"/>
<path d="M971 508.5h10M971 509.5h22M981 510.5h24M993 511.5h24M1005 512.5h24M1017 513.5h24M1029 514.5h24M1041 515.5h24M1053 516.5h24M1065 517.5h24M1077 518.5h24M1089 519.5h24M1101 520.5h24M1113 521.5h24M1125 522.5h24M1137 523.5h24M1149 524.5h24M1161 525.5h24M1173 526.5h24M1185 527.5h24M1197 528.5h24M1209 529.5h24M1221 530.5h24M1233 531.5h24M1245 532.5h23M1257 533.5h23M1268 534.5h24M1280 535.5h24M1292 536.5h24M1304 537.5h24M1316 538.5h24M1328 539.5h24M1340 540.5h24M1352 541.5h24M1364 542.5h24M1376 543.5h24M1388 544.5h24M1400 545.5h24M1412 546.5h24M1424 547.5h24M1436 548.5h24M1448 549.5h24M1460 550.5h24M1472 551.5h24M1484 552.5h24M1496 553.5h24M1508 554.5h24M1520 555.5h24M1532 556.5h21M1544 557.5h9" stroke="#ff9900" fill="none"/>
<path d="M945 614.5h3M941 615.5h4M948 615.5h1M939 616.5h2M949 616.5h1M937 617.5h2M949 617.5h1M936 618.5h1M950 618.5h1M935 619.5h1M951 619.5h1M933 620.5h2M952 620.5h1M932 621.5h1M953 621.5h1M929 622.5h3M953 622.5h1M994 622.5h2M925 623.5h4M954 623.5h1M992 623.5h2M996 623.5h1M921 624.5h4M955 624.5h2M989 624.5h3M996 624.5h1M917 625.5h4M957 625.5h2M969 625.5h8M982 625.5h7M997 625.5h1M914 626.5h3M959 626.5h3M966 626.5h3M977 626.5h5M998 626.5h1M527 627.5h5M912 627.5h2M962 627.5h4M999 627.5h1M1222 627.5h6M522 628.5h5M532 628.5h2M910 628.5h2M999 628.5h1M1191 628.5h9M1218 628.5h4M520 629.5h2M534 629.5h1M908 629.5h2M1000 629.5h1M1158 629.5h8M1177 629.5h14M1200 629.5h5M1216 629.5h2M517 630.5h3M535 630.5h2M894 630.5h14M1001 630.5h1M1149 630.5h9M1166 630.5h4M1173 630.5h4M1205 630.5h3M1214 630.5h2M514 631.5h3M537 631.5h1M587 631.5h1M890 631.5h4M1001 631.5h1M1009 631.5h3M1143 631.5h6M1170 631.5h3M1208 631.5h3M1212 631.5h2M509 632.5h5M538 632.5h1M554 632.5h3M585 632.5h2M588 632.5h1M888 632.5h2M1002 632.5h1M1006 632.5h3M1012 632.5h2M1139 632.5h4M1211 632.5h1M507 633.5h2M539 633.5h3M552 633.5h2M557 633.5h2M582 633.5h3M589 633.5h1M886 633.5h2M1003 633.5h3M1014 633.5h1M1137 633.5h2M506 634.5h1M542 634.5h2M550 634.5h2M559 634.5h2M580 634.5h2M589 634.5h1M884 634.5h2M1015 634.5h1M1135 634.5h2M289 635.5h3M505 635.5h1M544 635.5h3M548 635.5h2M561 635.5h2M566 635.5h14M590 635.5h1M879 635.5h5M1016 635.5h2M1026 635.5h2M1133 635.5h2M146 636.5h10M286 636.5h3M292 636.5h1M504 636.5h1M547 636.5h1M563 636.5h3M591 636.5h1M850 636.5h3M875 636.5h4M1018 636.5h1M1021 636.5h5M1028 636.5h1M1132 636.5h1M144 637.5h2M156 637.5h2M282 637.5h4M293 637.5h1M490 637.5h3M503 637.5h1M592 637.5h1M810 637.5h3M826 637.5h4M847 637.5h3M853 637.5h3M874 637.5h1M1019 637.5h2M1028 637.5h1M1129 637.5h3M141 638.5h3M158 638.5h1M277 638.5h5M294 638.5h1M487 638.5h3M493 638.5h1M502 638.5h1M593 638.5h1M807 638.5h3M813 638.5h3M823 638.5h3M830 638.5h4M845 638.5h2M856 638.5h2M873 638.5h1M1029 638.5h1M1127 638.5h2M139 639.5h2M159 639.5h1M249 639.5h3M275 639.5h2M295 639.5h1M458 639.5h11M484 639.5h3M494 639.5h2M502 639.5h1M594 639.5h1M805 639.5h2M816 639.5h2M821 639.5h2M834 639.5h11M858 639.5h3M871 639.5h2M1030 639.5h1M1124 639.5h3M137 640.5h2M160 640.5h1M203 640.5h1M244 640.5h5M252 640.5h1M274 640.5h1M296 640.5h1M456 640.5h2M469 640.5h2M481 640.5h3M496 640.5h1M501 640.5h1M594 640.5h1M787 640.5h1M803 640.5h2M818 640.5h3M861 640.5h2M870 640.5h1M1030 640.5h1M1123 640.5h1M136 641.5h1M161 641.5h2M167 641.5h6M202 641.5h1M204 641.5h1M239 641.5h5M253 641.5h1M273 641.5h1M297 641.5h1M351 641.5h5M454 641.5h2M471 641.5h3M478 641.5h3M497 641.5h2M500 641.5h1M595 641.5h2M786 641.5h1M788 641.5h1M802 641.5h1M863 641.5h2M869 641.5h1M1031 641.5h1M1122 641.5h1M134 642.5h2M163 642.5h4M173 642.5h3M201 642.5h1M205 642.5h1M235 642.5h4M254 642.5h1M273 642.5h1M298 642.5h1M347 642.5h4M356 642.5h2M452 642.5h2M474 642.5h4M499 642.5h1M597 642.5h2M621 642.5h8M785 642.5h1M789 642.5h1M801 642.5h1M865 642.5h2M868 642.5h1M1032 642.5h1M1082 642.5h10M1120 642.5h2M133 643.5h1M176 643.5h3M199 643.5h2M206 643.5h2M234 643.5h1M254 643.5h1M272 643.5h1M298 643.5h1M346 643.5h1M358 643.5h1M450 643.5h2M599 643.5h2M617 643.5h4M629 643.5h2M785 643.5h1M790 643.5h1M800 643.5h1M867 643.5h1M1032 643.5h1M1080 643.5h2M1092 643.5h2M1119 643.5h1M107 644.5h2M132 644.5h1M179 644.5h10M198 644.5h1M208 644.5h1M233 644.5h1M255 644.5h1M271 644.5h1M299 644.5h4M344 644.5h2M359 644.5h2M433 644.5h5M448 644.5h2M601 644.5h2M613 644.5h4M631 644.5h2M744 644.5h5M784 644.5h1M791 644.5h1M799 644.5h1M1033 644.5h1M1077 644.5h3M1094 644.5h1M1118 644.5h1M106 645.5h1M109 645.5h1M128 645.5h4M189 645.5h2M197 645.5h1M209 645.5h1M232 645.5h1M256 645.5h1M271 645.5h1M303 645.5h3M343 645.5h1M361 645.5h1M419 645.5h3M431 645.5h2M438 645.5h2M446 645.5h2M603 645.5h10M633 645.5h2M741 645.5h3M749 645.5h1M783 645.5h1M792 645.5h1M798 645.5h1M1034 645.5h1M1075 645.5h2M1095 645.5h2M1117 645.5h1M105 646.5h1M110 646.5h1M124 646.5h4M191 646.5h3M196 646.5h1M210 646.5h1M231 646.5h1M257 646.5h1M270 646.5h1M306 646.5h3M322 646.5h3M341 646.5h2M362 646.5h1M418 646.5h1M422 646.5h4M428 646.5h3M440 646.5h3M444 646.5h2M635 646.5h2M739 646.5h2M750 646.5h2M762 646.5h3M782 646.5h1M793 646.5h1M797 646.5h1M1034 646.5h1M1074 646.5h1M1097 646.5h2M1116 646.5h1M104 647.5h1M111 647.5h1M122 647.5h2M194 647.5h2M211 647.5h1M230 647.5h1M258 647.5h1M269 647.5h1M309 647.5h2M320 647.5h2M325 647.5h2M340 647.5h1M363 647.5h3M417 647.5h1M426 647.5h2M443 647.5h1M637 647.5h2M737 647.5h2M752 647.5h1M759 647.5h3M765 647.5h2M781 647.5h1M794 647.5h1M796 647.5h1M1035 647.5h3M1073 647.5h1M1099 647.5h5M1111 647.5h5M18 648.5h11M103 648.5h1M112 648.5h1M119 648.5h3M212 648.5h2M229 648.5h1M259 648.5h1M268 648.5h1M311 648.5h2M318 648.5h2M327 648.5h2M337 648.5h3M366 648.5h3M416 648.5h1M639 648.5h2M675 648.5h1M736 648.5h1M753 648.5h2M757 648.5h2M767 648.5h2M781 648.5h1M795 648.5h1M1038 648.5h5M1072 648.5h1M1104 648.5h7M16 649.5h2M29 649.5h1M102 649.5h1M113 649.5h2M117 649.5h2M214 649.5h1M228 649.5h1M259 649.5h6M268 649.5h1M313 649.5h2M316 649.5h2M329 649.5h2M333 649.5h4M369 649.5h2M402 649.5h3M414 649.5h2M641 649.5h2M673 649.5h2M676 649.5h2M735 649.5h1M755 649.5h2M769 649.5h2M780 649.5h1M1043 649.5h10M1072 649.5h1M3 650.5h3M14 650.5h2M30 650.5h2M72 650.5h5M101 650.5h1M115 650.5h2M215 650.5h2M225 650.5h3M265 650.5h3M315 650.5h1M331 650.5h2M371 650.5h4M400 650.5h2M405 650.5h2M413 650.5h1M643 650.5h4M672 650.5h1M678 650.5h1M734 650.5h1M771 650.5h9M1053 650.5h3M1071 650.5h1M6 651.5h3M13 651.5h1M32 651.5h1M69 651.5h3M77 651.5h1M100 651.5h1M217 651.5h2M221 651.5h4M375 651.5h3M397 651.5h3M407 651.5h3M412 651.5h1M647 651.5h3M670 651.5h2M679 651.5h2M732 651.5h2M1056 651.5h2M1070 651.5h1M9 652.5h4M33 652.5h2M39 652.5h6M67 652.5h2M78 652.5h1M100 652.5h1M219 652.5h2M378 652.5h19M410 652.5h2M650 652.5h14M668 652.5h2M681 652.5h2M731 652.5h1M1058 652.5h4M1069 652.5h1M35 653.5h4M45 653.5h3M65 653.5h2M79 653.5h1M98 653.5h2M664 653.5h4M683 653.5h1M729 653.5h2M1062 653.5h4M1068 653.5h1M48 654.5h2M64 654.5h1M80 654.5h2M96 654.5h2M684 654.5h2M728 654.5h1M1066 654.5h2M50 655.5h3M63 655.5h1M82 655.5h1M94 655.5h2M686 655.5h2M726 655.5h2M53 656.5h2M62 656.5h1M83 656.5h4M93 656.5h1M688 656.5h1M724 656.5h2M55 657.5h3M60 657.5h2M87 657.5h6M689 657.5h2M715 657.5h9M58 658.5h2M691 658.5h2M713 658.5h2M693 659.5h2M712 659.5h1M695 660.5h2M711 660.5h1M697 661.5h2M710 661.5h1M699 662.5h4M708 662.5h2M703 663.5h5" stroke="#1e90ff" fill="none"/>
<g stroke="#fff" fill="none"><rect x="2.5" y="2.5" width="1551" height="498"/><rect x="2.5" y="502.5" width="1551" height="97"/><rect x="2.5" y="601.5" width="1551" height="100"/></g>
<path d="M1554 68.5h2M1554 101.5h2M1554 134.5h2M1554 167.5h2M1554 200.5h2M1554 233.5h2M1554 266.5h2M1554 299.5h2M1554 332.5h2M1554 365.5h2M1554 398.5h2M1554 431.5h2M1554 464.5h2M1554 497.5h2M1554 35.5h2M1554 582.5h1M1554 632.5h1M1554 671.5h1M1554 504.5h1M1554 598.5h1M1554 603.5h1M1554 700.5h1M3.5 702v3M67.5 702v3M131.5 702v3M195.5 702v3M259.5 702v3M323.5 702v3M387.5 702v3M451.5 702v3M515.5 702v3M579.5 702v3M643.5 702v3M707.5 702v3M771.5 702v3M835.5 702v3M899.5 702v3M963.5 702v3M1027.5 702v3M1091.5 702v3M1155.5 702v3M1219.5 702v3" stroke="#ffffff" fill="none"/>
<g font-family="'Liberation Sans', sans-serif" font-size="9.33" text-rendering="geometricPrecision">
<text x="1559.3" y="71" fill="#fff" stroke="#fff" stroke-width="0.18" text-anchor="start" textLength="33" lengthAdjust="spacingAndGlyphs">1.31075</text>
<text x="1559.3" y="104" fill="#fff" stroke="#fff" stroke-width="0.18" text-anchor="start" textLength="33" lengthAdjust="spacingAndGlyphs">1.28450</text>
<text x="1559.3" y="137" fill="#fff" stroke="#fff" stroke-width="0.18" text-anchor="start" textLength="33" lengthAdjust="spacingAndGlyphs">1.25900</text>
<text x="1559.3" y="170" fill="#fff" stroke="#fff" stroke-width="0.18" text-anchor="start" textLength="33" lengthAdjust="spacingAndGlyphs">1.23275</text>
<text x="1559.3" y="203" fill="#fff" stroke="#fff" stroke-width="0.18" text-anchor="start" textLength="33" lengthAdjust="spacingAndGlyphs">1.20725</text>
<text x="1559.3" y="236" fill="#fff" stroke="#fff" stroke-width="0.18" text-anchor="start" textLength="33" lengthAdjust="spacingAndGlyphs">1.18100</text>
<text x="1559.3" y="269" fill="#fff" stroke="#fff" stroke-width="0.18" text-anchor="start" textLength="33" lengthAdjust="spacingAndGlyphs">1.15550</text>
<text x="1559.3" y="302" fill="#fff" stroke="#fff" stroke-width="0.18" text-anchor="start" textLength="33" lengthAdjust="spacingAndGlyphs">1.12925</text>
<text x="1559.3" y="335" fill="#fff" stroke="#fff" stroke-width="0.18" text-anchor="start" textLength="33" lengthAdjust="spacingAndGlyphs">1.10375</text>
<text x="1559.3" y="368" fill="#fff" stroke="#fff" stroke-width="0.18" text-anchor="start" textLength="33" lengthAdjust="spacingAndGlyphs">1.07825</text>
<text x="1559.3" y="401" fill="#fff" stroke="#fff" stroke-width="0.18" text-anchor="start" textLength="33" lengthAdjust="spacingAndGlyphs">1.05200</text>
<text x="1559.3" y="434" fill="#fff" stroke="#fff" stroke-width="0.18" text-anchor="start" textLength="33" lengthAdjust="spacingAndGlyphs">1.02650</text>
<text x="1559.3" y="467" fill="#fff" stroke="#fff" stroke-width="0.18" text-anchor="start" textLength="33" lengthAdjust="spacingAndGlyphs">1.00025</text>
<text x="1559.3" y="500" fill="#fff" stroke="#fff" stroke-width="0.18" text-anchor="start" textLength="33" lengthAdjust="spacingAndGlyphs">0.97475</text>
<text x="1559.3" y="38" fill="#fff" stroke="#fff" stroke-width="0.18" text-anchor="start" textLength="33" lengthAdjust="spacingAndGlyphs">1.33625</text>
<rect x="1555" y="7" width="41" height="11" fill="#ffff00"/>
<text x="1559.3" y="16" fill="#000" stroke="#000" stroke-width="0.18" text-anchor="start" textLength="33" lengthAdjust="spacingAndGlyphs">1.35362</text>
<rect x="1555" y="26" width="41" height="11" fill="#fff"/>
<text x="1559.3" y="35" fill="#000" stroke="#000" stroke-width="0.18" text-anchor="start" textLength="33" lengthAdjust="spacingAndGlyphs">1.33917</text>
<rect x="1555" y="69" width="41" height="11" fill="#fff"/>
<text x="1559.3" y="78" fill="#000" stroke="#000" stroke-width="0.18" text-anchor="start" textLength="33" lengthAdjust="spacingAndGlyphs">1.30536</text>
<rect x="1555" y="105" width="41" height="11" fill="#fff"/>
<text x="1559.3" y="114" fill="#000" stroke="#000" stroke-width="0.18" text-anchor="start" textLength="33" lengthAdjust="spacingAndGlyphs">1.27707</text>
<text x="1557" y="513" fill="#fff" stroke="#fff" stroke-width="0.18" text-anchor="start">0.0435</text>
<text x="1557" y="585" fill="#fff" stroke="#fff" stroke-width="0.18" text-anchor="start">0.00</text>
<text x="1557" y="596" fill="#fff" stroke="#fff" stroke-width="0.18" text-anchor="start">-0.00925</text>
<text x="1557" y="612" fill="#fff" stroke="#fff" stroke-width="0.18" text-anchor="start">100</text>
<text x="1556.3" y="635" fill="#fff" stroke="#fff" stroke-width="0.18" text-anchor="start">70</text>
<text x="1556.3" y="674" fill="#fff" stroke="#fff" stroke-width="0.18" text-anchor="start">30</text>
<text x="1557" y="698" fill="#fff" stroke="#fff" stroke-width="0.18" text-anchor="start">0</text>
<text x="2" y="714" fill="#fff" stroke="#fff" stroke-width="0.18" text-anchor="start">21 Oct 2012</text>
<text x="66" y="714" fill="#fff" stroke="#fff" stroke-width="0.18" text-anchor="start">16 Dec 2012</text>
<text x="130" y="714" fill="#fff" stroke="#fff" stroke-width="0.18" text-anchor="start">10 Feb 2013</text>
<text x="194" y="714" fill="#fff" stroke="#fff" stroke-width="0.18" text-anchor="start">7 Apr 2013</text>
<text x="258" y="714" fill="#fff" stroke="#fff" stroke-width="0.18" text-anchor="start">2 Jun 2013</text>
<text x="322" y="714" fill="#fff" stroke="#fff" stroke-width="0.18" text-anchor="start">28 Jul 2013</text>
<text x="386" y="714" fill="#fff" stroke="#fff" stroke-width="0.18" text-anchor="start">22 Sep 2013</text>
<text x="450" y="714" fill="#fff" stroke="#fff" stroke-width="0.18" text-anchor="start">17 Nov 2013</text>
<text x="514" y="714" fill="#fff" stroke="#fff" stroke-width="0.18" text-anchor="start">12 Jan 2014</text>
<text x="578" y="714" fill="#fff" stroke="#fff" stroke-width="0.18" text-anchor="start">9 Mar 2014</text>
<text x="642" y="714" fill="#fff" stroke="#fff" stroke-width="0.18" text-anchor="start">4 May 2014</text>
<text x="706" y="714" fill="#fff" stroke="#fff" stroke-width="0.18" text-anchor="start">29 Jun 2014</text>
<text x="770" y="714" fill="#fff" stroke="#fff" stroke-width="0.18" text-anchor="start">24 Aug 2014</text>
<text x="834" y="714" fill="#fff" stroke="#fff" stroke-width="0.18" text-anchor="start">19 Oct 2014</text>
<text x="898" y="714" fill="#fff" stroke="#fff" stroke-width="0.18" text-anchor="start">14 Dec 2014</text>
<text x="962" y="714" fill="#fff" stroke="#fff" stroke-width="0.18" text-anchor="start">8 Feb 2015</text>
<text x="1026" y="714" fill="#fff" stroke="#fff" stroke-width="0.18" text-anchor="start">5 Apr 2015</text>
<text x="1090" y="714" fill="#fff" stroke="#fff" stroke-width="0.18" text-anchor="start">31 May 2015</text>
<text x="1154" y="714" fill="#fff" stroke="#fff" stroke-width="0.18" text-anchor="start">26 Jul 2015</text>
<text x="1218" y="714" fill="#fff" stroke="#fff" stroke-width="0.18" text-anchor="start">20 Sep 2015</text>
</g>
</svg>
</body></html>
